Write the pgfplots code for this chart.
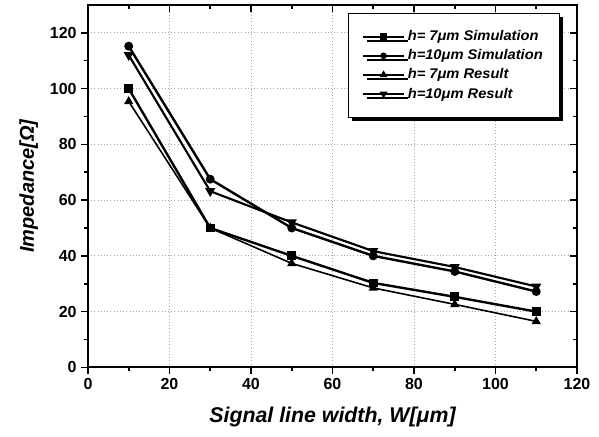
\documentclass[border=0pt]{standalone}
\usepackage{fontspec}
\setmainfont{Liberation Sans}
\newfontfamily\legfont[FakeStretch=1.05]{Liberation Sans}
\usepackage{pgfplots}
\pgfplotsset{compat=1.18}
\usetikzlibrary{shadows}
\pgfplotstableread{
x s7 s10 r7 r10
10 100 115.2 95.4 112
30 50 67.5 50 63.2
50 40 50 37.3 52
70 30.3 40 28.5 41.7
90 25.3 34.4 22.6 36
110 20 27.2 16.5 29
}\datatable
\begin{document}
\begin{tikzpicture}
\begin{axis}[
 scale only axis, width=367pt, height=272pt,
 xmin=0, xmax=120, ymin=0, ymax=130,
 xtick={0,20,...,120}, ytick={0,20,...,120},
 minor x tick num=1, minor y tick num=1,
 tick align=outside, xtick pos=left, ytick pos=left,
 major tick length=5pt, minor tick length=3pt,
 axis line style={line width=1.6pt},
 every tick/.style={black, line width=1.2pt},
 grid=major, major grid style={dotted, gray!70, line width=0.6pt},
 ticklabel style={font=\bfseries\fontsize{12}{12}\selectfont},
 /pgf/number format/assume math mode=true,
 xlabel={Signal line width, W[μm]}, ylabel={Impedance[Ω]},
 xlabel style={font=\bfseries\itshape\fontsize{16}{16}\selectfont, yshift=-6pt},
 ylabel style={font=\bfseries\itshape\fontsize{15}{15}\selectfont, yshift=2pt},
 legend cell align=left,
 legend image code/.code={
   \draw[mark repeat=2, mark phase=2, line width=1.3pt, every mark/.append style={scale=0.75}] plot coordinates {(0pt,0pt) (15.5pt,0pt) (31pt,0pt)};},
 legend style={at={(rel axis cs:0.965,0.978)}, anchor=north east,
   draw=black, line width=0.7pt,
   drop shadow={shadow xshift=3pt, shadow yshift=-3pt, fill=black, opacity=1},
   font=\legfont\bfseries\itshape\fontsize{10.5}{10.5}\selectfont, row sep=1.2pt,
   inner xsep=10.5pt, inner ysep=11pt,
   /tikz/every even column/.append style={column sep=3pt}},
]
\addplot[black, line width=1.8pt, mark=square*, mark size=2.4pt, mark options={solid}] table[x=x,y=s7]{\datatable};
\addlegendentry{h= 7μm Simulation}
\addplot[black, line width=1.8pt, mark=*, mark size=2.4pt, mark options={solid}] table[x=x,y=s10]{\datatable};
\addlegendentry{h=10μm Simulation}
\addplot[black, line width=1.2pt, mark=triangle*, mark size=2.8pt, mark options={solid}] table[x=x,y=r7]{\datatable};
\addlegendentry{h= 7μm Result}
\addplot[black, line width=1.6pt, mark=triangle*, mark size=2.8pt, mark options={solid, rotate=180}] table[x=x,y=r10]{\datatable};
\addlegendentry{h=10μm Result}
\coordinate (bl) at (rel axis cs:0,0);
\coordinate (tr) at (rel axis cs:1,1);
\end{axis}
\begin{axis}[
 scale only axis, width=367pt, height=272pt,
 xmin=0, xmax=120, ymin=0, ymax=130,
 xtick={0,20,...,120}, ytick={0,20,...,120},
 minor x tick num=1, minor y tick num=1,
 tick align=inside, xtick pos=right, ytick pos=right,
 major tick length=5pt, minor tick length=3pt,
 axis line style={line width=1.6pt},
 every tick/.style={black, line width=1.2pt},
 xticklabels={}, yticklabels={},
]
\end{axis}
\pgfresetboundingbox
\path[use as bounding box] ([shift={(-66pt,-52pt)}]bl) rectangle ([shift={(16.5pt,3.7pt)}]tr);
\end{tikzpicture}
\end{document}
